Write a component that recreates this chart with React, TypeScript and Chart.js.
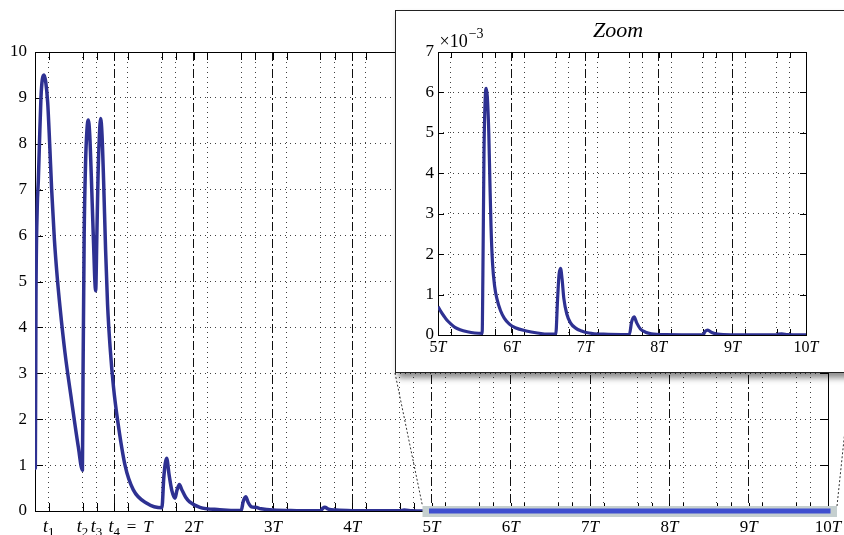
import React, { useEffect, useRef } from "react";
import { Chart, registerables } from "chart.js";

Chart.register(...registerables);

const FONT = '"Liberation Serif", "DejaVu Serif", serif';
const CURVE_COLOR = "#2e3192";
const BAND_BLUE = "#3f4fcf";
const BAND_GRAY = "#c5cfcf";
const DOT = [1, 4];
const DASHDOT = [9, 3, 2, 3];

// tick positions inside one period T (fractions of T): t1, t2, t3
const periodOffsets = [0.172, 0.6, 0.777];
const mainPeriods = [0, 1, 2, 3, 4, 5, 6, 7, 8, 9];
const mainPeriodMarks = [1, 2, 3, 4, 5, 6, 7, 8, 9];
const zoomPeriods = [5, 6, 7, 8, 9];
const zoomPeriodMarks = [6, 7, 8, 9];

const mainXLabels = ["t1", "t2", "t3", "t4 = T", "2T", "3T", "4T", "5T", "6T", "7T", "8T", "9T", "10T"];
const mainXLabelValues = [0.172, 0.6, 0.777, 1, 2, 3, 4, 5, 6, 7, 8, 9, 10];
const zoomXLabels = ["5T", "6T", "7T", "8T", "9T", "10T"];
const zoomXLabelValues = [5, 6, 7, 8, 9, 10];
const zoomRange = [5, 10];

// main response (x in units of T)
const mainX = [
  0, 0.004, 0.012, 0.028, 0.042, 0.056, 0.075, 0.092, 0.113, 0.135, 0.16, 0.185, 0.21, 0.245, 0.28, 0.315,
  0.378, 0.46, 0.546, 0.598,
  0.606, 0.62, 0.638, 0.655, 0.672, 0.69, 0.71, 0.735, 0.765, 0.78, 0.795, 0.81, 0.828, 0.845, 0.865, 0.89,
  0.915, 0.95, 0.99, 1.04, 1.135, 1.24, 1.41, 1.6,
  1.625, 1.66, 1.69, 1.725, 1.765, 1.79, 1.82, 1.85, 1.9, 1.95, 2.08, 2.33,
  2.6, 2.625, 2.657, 2.69, 2.73, 2.78, 2.85, 3.0, 3.3,
  3.6, 3.63, 3.655, 3.7, 3.8, 4.0,
  4.6, 4.655, 4.75, 5.0,
];
const mainY = [
  1.87, 0.93, 4.6, 6.6, 7.2, 8.0, 9.0, 9.4, 9.5, 9.35, 8.9, 8.0, 7.0, 5.9, 5.1, 4.45,
  3.45, 2.42, 1.4, 0.89,
  3.0, 6.0, 7.6, 8.3, 8.52, 8.2, 7.3, 6.0, 4.8, 6.0, 7.3, 8.1, 8.55, 8.2, 7.2, 5.7,
  4.5, 3.5, 2.7, 2.0, 1.0, 0.46, 0.17, 0.07,
  0.75, 1.15, 0.8, 0.45, 0.28, 0.45, 0.58, 0.47, 0.3, 0.2, 0.08, 0.03,
  0.01, 0.2, 0.31, 0.18, 0.09, 0.08, 0.05, 0.02, 0.008,
  0.005, 0.06, 0.08, 0.04, 0.02, 0.008,
  0.003, 0.02, 0.008, 0.001,
];

// zoomed response, y in units of 1e-3
const zoomX = [
  5.0, 5.04, 5.08, 5.12, 5.17, 5.23, 5.3, 5.4, 5.5, 5.6,
  5.61, 5.625, 5.64, 5.655, 5.67, 5.69, 5.705, 5.72, 5.74, 5.77, 5.8, 5.85, 5.9, 5.97, 6.05, 6.2, 6.35, 6.5,
  6.6, 6.625, 6.645, 6.665, 6.685, 6.71, 6.75, 6.8, 6.87, 6.95, 7.05, 7.25,
  7.6, 7.63, 7.665, 7.7, 7.75, 7.82, 7.9, 8.1,
  8.6, 8.63, 8.665, 8.72, 8.8, 9.0,
  9.6, 9.63, 9.67, 9.75, 10.0,
];
const zoomY = [
  0.7, 0.58, 0.47, 0.37, 0.28, 0.19, 0.13, 0.08, 0.05, 0.04,
  1.5, 4.5, 5.8, 6.1, 5.9, 5.0, 3.8, 2.7, 1.8, 1.2, 0.9, 0.6, 0.42, 0.27, 0.18, 0.1, 0.05, 0.02,
  0.02, 0.9, 1.5, 1.65, 1.4, 0.9, 0.52, 0.3, 0.17, 0.1, 0.05, 0.02,
  0.01, 0.32, 0.45, 0.3, 0.15, 0.07, 0.03, 0.01,
  0.005, 0.09, 0.12, 0.06, 0.02, 0.005,
  0.002, 0.025, 0.03, 0.01, 0.002,
];

const INSET = { left: 395, top: 10, width: 456, height: 363 };

type Tok = { text: string; italic: boolean; size: number; dy: number };

function tokenize(label: string, size: number): Tok[] {
  const out: Tok[] = [];
  for (let i = 0; i < label.length; i++) {
    const c = label[i];
    const next = label[i + 1];
    if (c === "t" && next && /[0-9]/.test(next)) {
      out.push({ text: "t", italic: true, size: Math.round(size * 1.08), dy: 0 });
      out.push({ text: next, italic: false, size: Math.round(size * 0.76), dy: size * 0.24 });
      i++;
    } else if (/[A-Za-z]/.test(c)) {
      out.push({ text: c, italic: true, size, dy: 0 });
    } else {
      out.push({ text: c, italic: false, size, dy: 0 });
    }
  }
  return out;
}

function drawMathLabel(ctx: CanvasRenderingContext2D, label: string, x: number, baseline: number, size: number) {
  const toks = tokenize(label, size);
  const font = (t: Tok) => `${t.italic ? "italic " : ""}${t.size}px ${FONT}`;
  const widths = toks.map((t) => {
    if (t.text === " ") return t.size * 0.4;
    ctx.font = font(t);
    return ctx.measureText(t.text).width;
  });
  let anchorW = 0;
  for (let k = 0; k < toks.length && toks[k].text !== " "; k++) anchorW += widths[k];
  let cx = x - anchorW / 2;
  ctx.save();
  ctx.textAlign = "left";
  ctx.textBaseline = "alphabetic";
  ctx.fillStyle = "#000";
  toks.forEach((t, i) => {
    if (t.text !== " ") {
      ctx.font = font(t);
      ctx.fillText(t.text, cx, baseline + t.dy);
    }
    cx += widths[i];
  });
  ctx.restore();
}

function drawFrame(chart: any, xIds: string[], len: number) {
  const { ctx, chartArea } = chart;
  const { left, right, top, bottom } = chartArea;
  ctx.save();
  ctx.strokeStyle = "#000";
  ctx.lineWidth = 1;
  ctx.setLineDash([]);
  ctx.beginPath();
  for (const id of xIds) {
    const s = chart.scales[id];
    for (const t of s.ticks) {
      const p = Math.round(s.getPixelForValue(t.value)) + 0.5;
      ctx.moveTo(p, bottom);
      ctx.lineTo(p, bottom - len);
      ctx.moveTo(p, top);
      ctx.lineTo(p, top + len);
    }
  }
  const ys = chart.scales.y;
  for (const t of ys.ticks) {
    const p = Math.round(ys.getPixelForValue(t.value)) + 0.5;
    ctx.moveTo(left, p);
    ctx.lineTo(left + len, p);
    ctx.moveTo(right, p);
    ctx.lineTo(right - len, p);
  }
  ctx.stroke();
  ctx.strokeRect(Math.round(left) + 0.5, Math.round(top) + 0.5, Math.round(right - left), Math.round(bottom - top));
  ctx.restore();
}

function bandRect(chart: any) {
  const xs = chart.scales.x;
  const ys = chart.scales.y;
  const y0 = ys.getPixelForValue(0);
  return {
    left: xs.getPixelForValue(zoomRange[0]) - 9,
    right: xs.getPixelForValue(zoomRange[1]) + 9,
    top: y0 - 5,
    bottom: y0 + 6,
  };
}

const mainDecor = {
  id: "mainDecor",
  beforeDatasetsDraw(chart: any) {
    drawFrame(chart, ["x", "x2"], 8);
  },
  beforeDatasetDraw(chart: any, args: any) {
    if (args.index !== 0) return;
    const r = bandRect(chart);
    const ctx = chart.ctx;
    ctx.save();
    ctx.fillStyle = BAND_GRAY;
    ctx.fillRect(r.left, r.top, r.right - r.left, r.bottom - r.top);
    ctx.restore();
  },
  afterDraw(chart: any) {
    const ctx = chart.ctx;
    const xs = chart.scales.x;
    const base = chart.chartArea.bottom + 20.5;
    mainXLabels.forEach((lab, i) => {
      drawMathLabel(ctx, lab, xs.getPixelForValue(mainXLabelValues[i]), base, 17);
    });
    const r = bandRect(chart);
    ctx.save();
    ctx.strokeStyle = "#333";
    ctx.lineWidth = 1;
    ctx.setLineDash([2, 2]);
    ctx.beginPath();
    ctx.moveTo(INSET.left, INSET.top + INSET.height);
    ctx.lineTo(r.left, r.top);
    ctx.moveTo(r.right, r.top);
    ctx.lineTo(INSET.left + INSET.width, INSET.top + INSET.height);
    ctx.stroke();
    ctx.restore();
  },
};

const zoomDecor = {
  id: "zoomDecor",
  beforeDatasetsDraw(chart: any) {
    drawFrame(chart, ["x", "x2"], 6);
  },
  afterDraw(chart: any) {
    const ctx = chart.ctx;
    const xs = chart.scales.x;
    const { left, right, top, bottom } = chart.chartArea;
    zoomXLabels.forEach((lab, i) => {
      drawMathLabel(ctx, lab, xs.getPixelForValue(zoomXLabelValues[i]), bottom + 17, 16);
    });
    ctx.save();
    ctx.fillStyle = "#000";
    ctx.textAlign = "left";
    ctx.textBaseline = "alphabetic";
    ctx.font = `18px ${FONT}`;
    const w = ctx.measureText("\u00d710").width;
    ctx.fillText("\u00d710", left + 1.5, top - 5);
    ctx.font = `14px ${FONT}`;
    ctx.fillText("\u22123", left + 2.5 + w, top - 14);
    ctx.font = `italic 22px ${FONT}`;
    ctx.textAlign = "center";
    ctx.fillText("Zoom", (left + right) / 2 - 4, top - 15.5);
    ctx.restore();
  },
};

function xAxes(dotted: number[], dashed: number[], min: number, max: number) {
  const common = {
    type: "linear" as const,
    min,
    max,
    position: "bottom" as const,
    afterFit: (s: any) => {
      s.height = 0;
    },
    ticks: { display: false, autoSkip: false },
  };
  return {
    x: {
      ...common,
      afterBuildTicks: (s: any) => {
        s.ticks = dotted.map((v) => ({ value: v }));
      },
      grid: { color: "rgba(0,0,0,0.75)", lineWidth: 1, drawTicks: false, borderDash: DOT },
      border: { display: false, dash: DOT },
    },
    x2: {
      ...common,
      afterBuildTicks: (s: any) => {
        s.ticks = dashed.map((v) => ({ value: v }));
      },
      grid: { color: "#111", lineWidth: 1, drawTicks: false, borderDash: DASHDOT },
      border: { display: false, dash: DASHDOT },
    },
  };
}

function yAxis(max: number, width: number, padding: number) {
  return {
    type: "linear" as const,
    min: 0,
    max,
    afterFit: (s: any) => {
      s.width = width;
    },
    ticks: { stepSize: 1, color: "#000", font: { family: FONT, size: 17 }, padding },
    grid: { color: "rgba(0,0,0,0.75)", lineWidth: 1, drawTicks: false, borderDash: DOT },
    border: { display: false, dash: DOT },
  };
}

export default function App() {
  const mainRef = useRef<HTMLCanvasElement | null>(null);
  const zoomRef = useRef<HTMLCanvasElement | null>(null);

  useEffect(() => {
    const mainDotted = mainPeriods.flatMap((n) => periodOffsets.map((o) => n + o));
    const zoomDotted = zoomPeriods.flatMap((n) => periodOffsets.map((o) => n + o));

    const main = new Chart(mainRef.current as HTMLCanvasElement, {
      type: "line",
      data: {
        datasets: [
          {
            label: "zoom band",
            data: zoomRange.map((x) => ({ x, y: 0 })),
            borderColor: BAND_BLUE,
            borderWidth: 5,
            borderCapStyle: "square",
            pointRadius: 0,
            clip: false as any,
            order: 0,
          },
          {
            label: "response",
            data: mainX.map((x, i) => ({ x, y: mainY[i] })),
            borderColor: CURVE_COLOR,
            borderWidth: 3.5,
            borderJoinStyle: "round",
            pointRadius: 0,
            cubicInterpolationMode: "monotone",
            order: 1,
          },
        ],
      },
      options: {
        responsive: false,
        animation: false,
        events: [],
        layout: { padding: { left: 0, right: 16, top: 52, bottom: 24 } },
        plugins: { legend: { display: false }, tooltip: { enabled: false } },
        scales: {
          ...xAxes(mainDotted, mainPeriodMarks, 0, 10),
          y: yAxis(10, 35, 8),
        } as any,
      },
      plugins: [mainDecor],
    });

    const zoom = new Chart(zoomRef.current as HTMLCanvasElement, {
      type: "line",
      data: {
        datasets: [
          {
            label: "response (zoom)",
            data: zoomX.map((x, i) => ({ x, y: zoomY[i] })),
            borderColor: CURVE_COLOR,
            borderWidth: 3.2,
            borderJoinStyle: "round",
            pointRadius: 0,
            cubicInterpolationMode: "monotone",
          },
        ],
      },
      options: {
        responsive: false,
        animation: false,
        events: [],
        layout: { padding: { left: 0, right: 44, top: 41, bottom: 37 } },
        plugins: { legend: { display: false }, tooltip: { enabled: false } },
        scales: {
          ...xAxes(zoomDotted, zoomPeriodMarks, 5, 10),
          y: yAxis(7, 42, 4),
        } as any,
      },
      plugins: [zoomDecor],
    });

    return () => {
      main.destroy();
      zoom.destroy();
    };
  }, []);

  return (
    <div
      style={{
        position: "fixed",
        left: 0,
        top: 0,
        width: 844,
        height: 535,
        overflow: "hidden",
        background: "#fff",
      }}
    >
      <canvas ref={mainRef} width={844} height={535} style={{ position: "absolute", left: 0, top: 0 }} />
      <div
        style={{
          position: "absolute",
          left: INSET.left,
          top: INSET.top,
          width: INSET.width,
          height: INSET.height,
          boxSizing: "border-box",
          border: "1px solid #222",
          background: "#fff",
          boxShadow: "3px 5px 6px rgba(0,0,0,0.45)",
        }}
      >
        <canvas ref={zoomRef} width={454} height={361} style={{ display: "block" }} />
      </div>
    </div>
  );
}
